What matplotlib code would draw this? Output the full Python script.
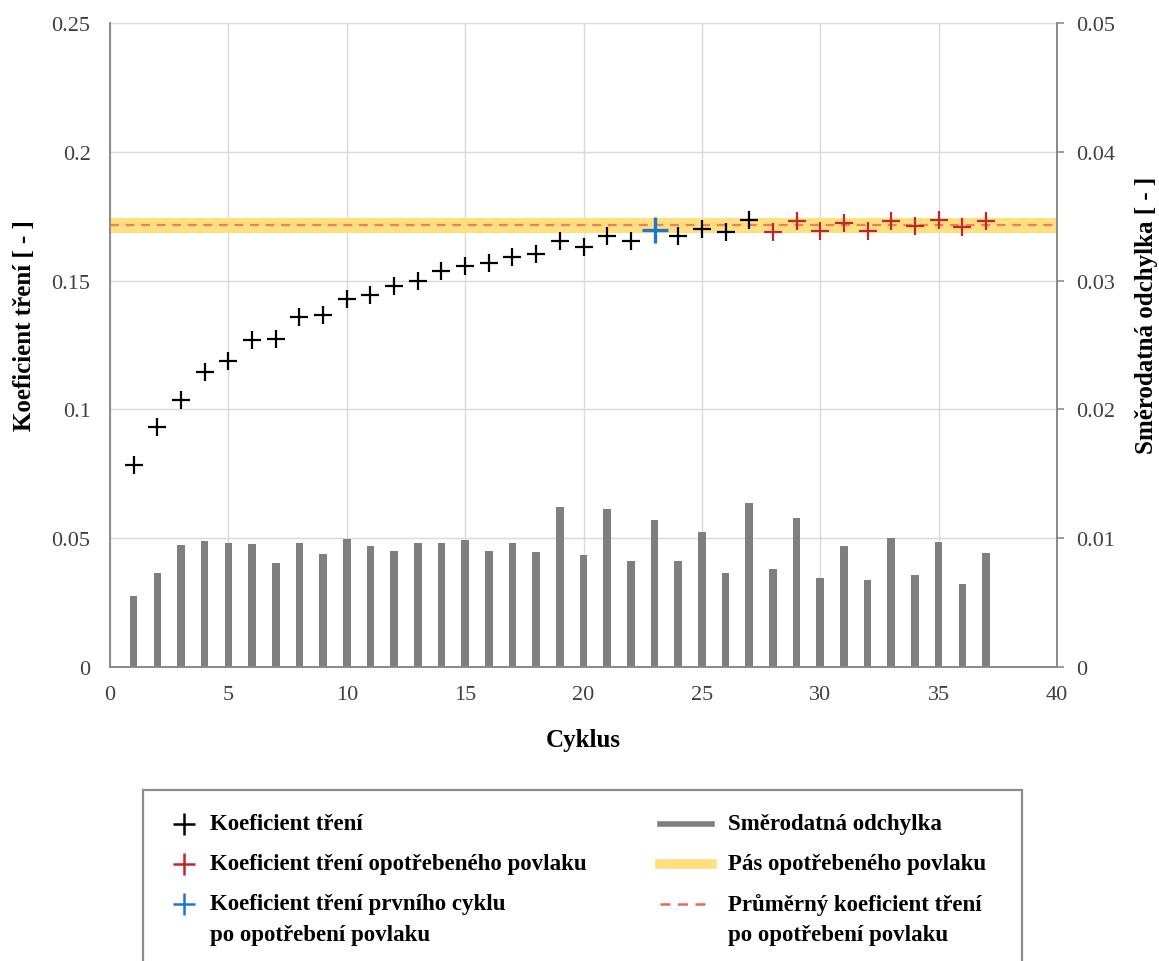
import numpy as np
import matplotlib

matplotlib.use("Agg")
import matplotlib.pyplot as plt
from matplotlib.lines import Line2D
from matplotlib.patches import Rectangle
from matplotlib.ticker import FuncFormatter, MultipleLocator

plt.rcParams["font.family"] = ["Liberation Serif", "DejaVu Serif"]

# friction coefficient per cycle
cycles = np.arange(1, 38)
mu = [0.0784, 0.0932, 0.1036, 0.1145, 0.1188, 0.1270, 0.1273, 0.1359, 0.1366,
      0.1429, 0.1444, 0.1479, 0.1498, 0.1537, 0.1557, 0.1570, 0.1592, 0.1603,
      0.1653, 0.1632, 0.1675, 0.1653, 0.1696, 0.1672, 0.1700, 0.1689, 0.1736,
      0.1687, 0.1730, 0.1691, 0.1724, 0.1691, 0.1730, 0.1713, 0.1736, 0.1707,
      0.1730]
# standard deviation per cycle (right axis)
std = [0.00549, 0.00727, 0.00945, 0.00976, 0.00965, 0.00957, 0.00810, 0.00965,
       0.00877, 0.00991, 0.00942, 0.00903, 0.00965, 0.00965, 0.00988, 0.00898,
       0.00965, 0.00890, 0.01242, 0.00867, 0.01224, 0.00825, 0.01139, 0.00820,
       0.01046, 0.00732, 0.01273, 0.00763, 0.01154, 0.00689, 0.00942, 0.00675,
       0.01002, 0.00712, 0.00970, 0.00644, 0.00885]

FIRST_WORN = 23      # first cycle after the coating wore through
WORN_FROM = 28       # cycles counted as worn coating
BAND_HALF = 0.003

mu = np.asarray(mu)
worn = cycles >= WORN_FROM
first = cycles == FIRST_WORN
normal = ~worn & ~first
mu_mean = mu[worn].mean()

C_RED = "#C0272D"
C_BLUE = "#1F74D2"
C_BAND = "#FFDF80"
C_DASH = "#E4584A"
C_BAR = "#7F7F7F"
C_SPINE = "#8C8C8C"
C_TICK = "#404040"

W, H = 1159, 962
fig = plt.figure(figsize=(W / 100, H / 100), dpi=100)
ax = fig.add_axes([110 / W, 1 - 668 / H, 947 / W, 644 / H])
ax2 = ax.twinx()

ax.axhspan(mu_mean - BAND_HALF, mu_mean + BAND_HALF, color=C_BAND, lw=0, zorder=1)
ax.axhline(mu_mean, color=C_DASH, ls=(0, (4, 3)), lw=1.6, alpha=0.7, zorder=2)

ax.plot(cycles[normal], mu[normal], ls="none", marker="+", ms=13.5, mew=1.6,
        color="black", zorder=3)
ax.plot(cycles[worn], mu[worn], ls="none", marker="+", ms=13.5, mew=1.6,
        color=C_RED, zorder=3)
ax.plot(cycles[first], mu[first], ls="none", marker="+", ms=19, mew=2.4,
        color=C_BLUE, zorder=4)

ax2.bar(cycles, std, width=0.32, color=C_BAR, zorder=2)

ax.set_xlim(0, 40)
ax.set_ylim(0, 0.25)
ax2.set_ylim(0, 0.05)
ax.xaxis.set_major_locator(MultipleLocator(5))
ax.yaxis.set_major_locator(MultipleLocator(0.05))
ax2.yaxis.set_major_locator(MultipleLocator(0.01))
fmt = FuncFormatter(lambda v, _: f"{v:g}")
ax.yaxis.set_major_formatter(fmt)
ax2.yaxis.set_major_formatter(fmt)

ax.grid(True, color="#D9D9D9", lw=1.0)
ax.set_axisbelow(True)

for a in (ax, ax2):
    a.spines["top"].set_visible(False)
    for s in ("left", "right", "bottom"):
        a.spines[s].set_color(C_SPINE)
        a.spines[s].set_linewidth(1.3)
ax.tick_params(axis="both", length=0, labelsize=16, labelcolor=C_TICK)
ax.tick_params(axis="y", pad=14)
ax.tick_params(axis="x", pad=13)
ax2.tick_params(axis="y", length=5, width=1.2, color=C_SPINE, pad=9,
                labelsize=16, labelcolor=C_TICK)

ax.set_xlabel("Cyklus", fontsize=18, fontweight="bold")
ax.xaxis.set_label_coords(0.5, -0.095)
ax.set_ylabel("Koeficient tření [ - ]", fontsize=18, fontweight="bold")
ax.yaxis.set_label_coords(-0.078, 0.531)
ax2.set_ylabel("Směrodatná odchylka [ - ]", fontsize=18, fontweight="bold")
ax2.yaxis.set_label_coords(1.082, 0.547)


# ---- legend, laid out by hand in figure pixels ----
def fx(x):
    return x / W


def fy(y):
    return 1 - y / H


# frame running off the bottom edge
fig.patches.append(Rectangle((fx(143), -0.02), fx(1022) - fx(143), fy(791) + 0.02,
                             transform=fig.transFigure, fill=False,
                             edgecolor=C_SPINE, lw=1.6))

ROWS = [825, 865, 905]
LINE_GAP = 31
leg_font = dict(fontsize=16.5, fontweight="bold", va="center", ha="left")

left_entries = [
    ("black", "Koeficient tření"),
    (C_RED, "Koeficient tření opotřebeného povlaku"),
    (C_BLUE, "Koeficient tření prvního cyklu\npo opotřebení povlaku"),
]
right_entries = [
    (dict(color=C_BAR, lw=4), "Směrodatná odchylka"),
    (dict(color=C_BAND, lw=7), "Pás opotřebeného povlaku"),
    (dict(color=C_DASH, lw=1.8, ls=(0, (4, 3)), alpha=0.9),
     "Průměrný koeficient tření\npo opotřebení povlaku"),
]

for y, (col, label) in zip(ROWS, left_entries):
    fig.add_artist(Line2D([fx(184)], [fy(y)], transform=fig.transFigure,
                          ls="none", marker="+", ms=16, mew=1.8, color=col))
    for i, line in enumerate(label.split("\n")):
        fig.text(fx(210), fy(y + i * LINE_GAP), line, **leg_font)

for y, (style, label) in zip(ROWS, right_entries):
    fig.add_artist(Line2D([fx(660), fx(712)], [fy(y), fy(y)],
                          transform=fig.transFigure, **style))
    for i, line in enumerate(label.split("\n")):
        fig.text(fx(728), fy(y + i * LINE_GAP), line, **leg_font)

fig.savefig("out.png", dpi=100)
